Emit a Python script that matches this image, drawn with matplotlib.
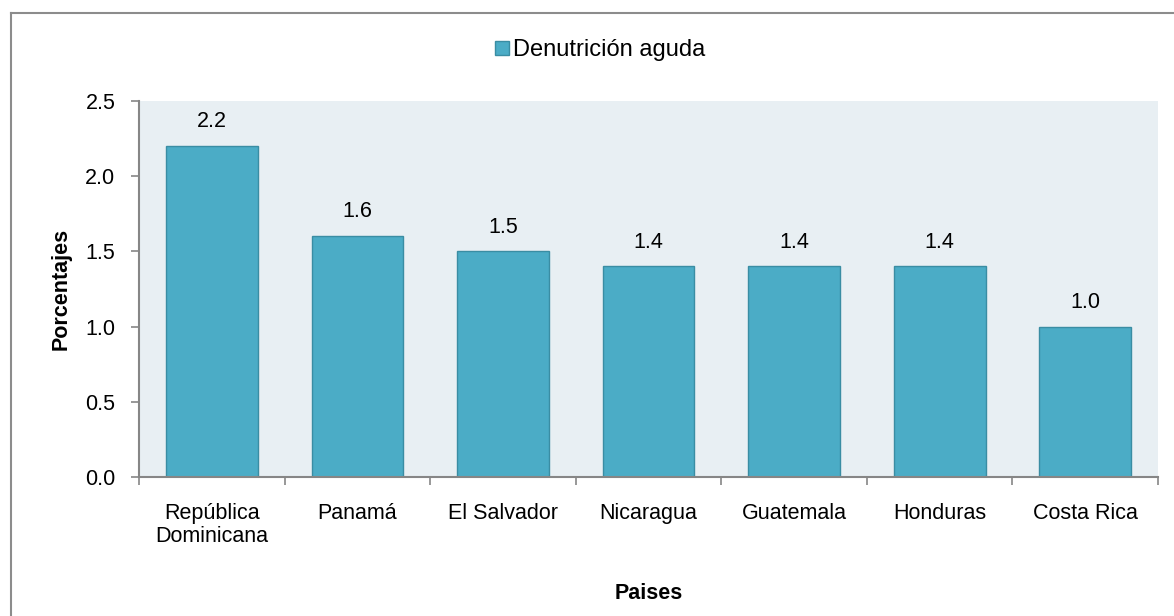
import numpy as np
import matplotlib.pyplot as plt
from matplotlib.lines import Line2D

plt.rcParams['font.family'] = ['Liberation Sans', 'DejaVu Sans']

paises = ['República\nDominicana', 'Panamá', 'El Salvador', 'Nicaragua',
          'Guatemala', 'Honduras', 'Costa Rica']
valores = [2.2, 1.6, 1.5, 1.4, 1.4, 1.4, 1.0]
serie = 'Denutrición aguda'

BAR_COLOR = '#4BACC6'
EDGE_COLOR = '#3A8DA3'
BG_COLOR = '#E8EFF3'
AXIS_COLOR = '#868686'
FS = 15.5

fig = plt.figure(figsize=(11.74, 6.16), dpi=100)
ax = fig.add_axes([0.1184, 0.2256, 0.868, 0.6104])
ax.set_facecolor(BG_COLOR)

x = np.arange(len(paises))
ax.bar(x, valores, width=0.63, color=BAR_COLOR, edgecolor=EDGE_COLOR,
       linewidth=1.0, label=serie, zorder=2)

for xi, v in zip(x, valores):
    ax.annotate(f'{v:.1f}', (xi, v), xytext=(0, 10), textcoords='offset points',
                ha='center', va='bottom', fontsize=FS)

ax.set_xlim(-0.5, len(paises) - 0.5)
ax.set_ylim(0, 2.5)
yt = np.arange(0, 2.51, 0.5)
ax.set_yticks(yt)
ax.set_yticklabels([f'{t:.1f}' for t in yt])

# category labels between boundary ticks
ax.set_xticks(np.arange(-0.5, len(paises)))
ax.set_xticklabels([])
ax.set_xticks(x, minor=True)
ax.set_xticklabels(paises, minor=True, fontsize=FS, linespacing=1.1)
ax.tick_params(axis='x', which='minor', length=0, pad=19)
ax.tick_params(axis='x', which='major', length=6, color=AXIS_COLOR, width=1.2)
ax.tick_params(axis='y', length=6, color=AXIS_COLOR, width=1.2, labelsize=FS, pad=11)

for s in ['top', 'right']:
    ax.spines[s].set_visible(False)
for s in ['left', 'bottom']:
    ax.spines[s].set_color(AXIS_COLOR)
    ax.spines[s].set_linewidth(1.5)

ax.set_ylabel('Porcentajes', fontsize=FS, fontweight='bold')
ax.yaxis.set_label_coords(-0.066, 0.5)
ax.set_xlabel('Paises', fontsize=FS, fontweight='bold')
ax.xaxis.label.set_va('center')
ax.xaxis.set_label_coords(0.5, -0.311)

handle = Line2D([], [], marker='s', linestyle='none', markersize=9.5,
                markerfacecolor=BAR_COLOR, markeredgecolor=EDGE_COLOR)
fig.legend([handle], [serie], loc='center', bbox_to_anchor=(0.5105, 0.919),
           frameon=False, fontsize=17, handletextpad=0.1, borderpad=0,
           handlelength=0.7)

# outer border (top and left only, as in the source)
fig.add_artist(Line2D([10.5 / 1174, 1.0], [1 - 12.5 / 616, 1 - 12.5 / 616],
                      color='#8C8C8C', linewidth=1.5, transform=fig.transFigure))
fig.add_artist(Line2D([10.5 / 1174, 10.5 / 1174], [0, 1 - 12.5 / 616],
                      color='#8C8C8C', linewidth=1.5, transform=fig.transFigure))

fig.savefig('out.png', dpi=100)
